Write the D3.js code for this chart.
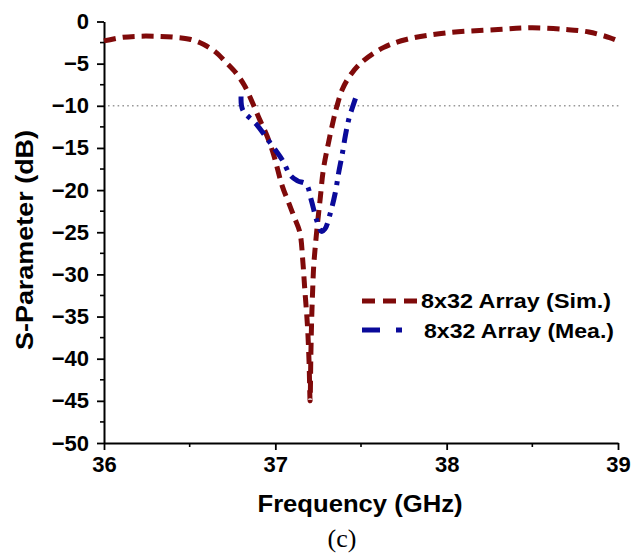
<!DOCTYPE html>
<html>
<head>
<meta charset="utf-8">
<script src="https://cdn.jsdelivr.net/npm/d3@7"></script>
<style>
  body { margin: 0; background: #fff; }
  svg { display: block; font-family: "Liberation Sans", Arial, sans-serif; }
</style>
</head>
<body>
<svg width="634" height="557"></svg>
<script>
// values (frequency in GHz, S-parameter in dB)
const simFreq = [36.00, 36.10, 36.20, 36.30, 36.40, 36.50, 36.58, 36.65, 36.71, 36.77, 36.82, 36.87,
  36.91, 36.95, 36.99, 37.04, 37.08, 37.11, 37.143, 37.161, 37.172, 37.184, 37.19, 37.197, 37.203,
  37.207, 37.212, 37.218, 37.224, 37.235, 37.248, 37.262, 37.28, 37.31, 37.34, 37.36, 37.39, 37.43,
  37.50, 37.63, 37.77, 38.00, 38.30, 38.50, 38.70, 38.83, 38.95, 39.00];
const simS = [-2.3, -1.9, -1.75, -1.75, -1.85, -2.1, -2.7, -3.6, -4.8, -6.1, -7.6, -9.8,
  -11.7, -13.5, -15.8, -19.5, -21.6, -23.2, -25.0, -28.6, -31.8, -35.0, -37.0, -40.5, -45.0,
  -40.0, -35.4, -31.8, -29.0, -26.3, -23.6, -21.0, -17.6, -14.4, -11.6, -10.0, -8.1, -6.6,
  -4.9, -3.1, -2.1, -1.35, -0.95, -0.75, -0.95, -1.25, -1.9, -2.3];

const meaFreq = [36.80, 36.81, 36.89, 36.97, 37.04, 37.09, 37.13, 37.18, 37.21, 37.24, 37.27, 37.29,
  37.32, 37.35, 37.37, 37.39, 37.41, 37.43, 37.45, 37.47];
const meaS = [-8.9, -10.5, -12.2, -14.4, -16.4, -18.3, -18.9, -19.3, -21.2, -23.5, -24.9, -24.6,
  -22.8, -20.3, -17.9, -15.8, -13.4, -11.5, -10.2, -9.0];

const xTicks = [36, 37, 38, 39];
const yTicks = [0, -5, -10, -15, -20, -25, -30, -35, -40, -45, -50];
const seriesNames = ["8x32 Array (Sim.)", "8x32 Array (Mea.)"];

const font = "'Liberation Sans', Arial, sans-serif";
const svg = d3.select("svg");
const x = d3.scaleLinear().domain([36, 39]).range([104, 618]);
const y = d3.scaleLinear().domain([-50, 0]).range([443, 21.5]);

const simData = simFreq.map((f, i) => ({ f, s: simS[i] }));
const meaData = meaFreq.map((f, i) => ({ f, s: meaS[i] }));

// -10 dB reference line
svg.append("line")
  .attr("x1", x(36) + 4).attr("x2", x(39) + 2)
  .attr("y1", y(-10)).attr("y2", y(-10))
  .attr("stroke", "#999").attr("stroke-width", 1.6)
  .attr("stroke-dasharray", "1.6,3.2");

// axes
const yAxis = svg.append("g")
  .attr("transform", `translate(${x(36)},0)`)
  .call(d3.axisLeft(y).tickValues(yTicks).tickSize(7).tickSizeOuter(0).tickPadding(8));
const xAxis = svg.append("g")
  .attr("transform", `translate(0,${y(-50)})`)
  .call(d3.axisBottom(x).tickValues(xTicks).tickFormat(d3.format("d")).tickSize(7).tickSizeOuter(0).tickPadding(6));

[yAxis, xAxis].forEach(g => {
  g.attr("font-family", font);
  g.select(".domain").attr("stroke", "#000").attr("stroke-width", 2);
  g.selectAll(".tick line").attr("stroke", "#000").attr("stroke-width", 1.8);
  g.selectAll(".tick text")
    .attr("font-size", 22).attr("font-weight", "bold").attr("fill", "#000");
});

// minor ticks
const yMinor = d3.range(-47.5, 0, 5);
svg.append("g").selectAll("line").data(yMinor).join("line")
  .attr("x1", x(36) - 4).attr("x2", x(36))
  .attr("y1", d => y(d)).attr("y2", d => y(d))
  .attr("stroke", "#000").attr("stroke-width", 1.6);
const xMinor = [36.5, 37.5, 38.5];
svg.append("g").selectAll("line").data(xMinor).join("line")
  .attr("x1", d => x(d)).attr("x2", d => x(d))
  .attr("y1", y(-50)).attr("y2", y(-50) + 4)
  .attr("stroke", "#000").attr("stroke-width", 1.6);

// curves
const line = d3.line().x(d => x(d.f)).y(d => y(d.s)).curve(d3.curveCatmullRom.alpha(0.5));
svg.append("path").datum(simData)
  .attr("fill", "none").attr("stroke", "#7f0a0a").attr("stroke-width", 5)
  .attr("stroke-dasharray", "12,7").attr("d", line);
svg.append("path").datum(meaData)
  .attr("fill", "none").attr("stroke", "#0a0a9a").attr("stroke-width", 5)
  .attr("stroke-dasharray", "14,7,4,7").attr("d", line);

// legend
const legend = svg.append("g");
legend.append("line")
  .attr("x1", 362).attr("x2", 419).attr("y1", 301).attr("y2", 301)
  .attr("stroke", "#7f0a0a").attr("stroke-width", 5).attr("stroke-dasharray", "13,8");
legend.append("line")
  .attr("x1", 362).attr("x2", 404).attr("y1", 330).attr("y2", 330)
  .attr("stroke", "#0a0a9a").attr("stroke-width", 5).attr("stroke-dasharray", "18,16,6,10");
legend.selectAll("text").data(seriesNames).join("text")
  .attr("x", (d, i) => i === 0 ? 421 : 424)
  .attr("y", (d, i) => 308 + i * 30)
  .attr("font-size", 21).attr("font-weight", "bold")
  .attr("textLength", 190).attr("lengthAdjust", "spacingAndGlyphs")
  .text(d => d);

// axis titles
svg.append("text")
  .attr("x", 360).attr("y", 512)
  .attr("text-anchor", "middle")
  .attr("font-size", 24).attr("font-weight", "bold")
  .attr("textLength", 205).attr("lengthAdjust", "spacingAndGlyphs")
  .text("Frequency (GHz)");

svg.append("text")
  .attr("transform", "translate(33,240) rotate(-90)")
  .attr("text-anchor", "middle")
  .attr("font-size", 23).attr("font-weight", "bold")
  .attr("textLength", 220).attr("lengthAdjust", "spacingAndGlyphs")
  .text("S-Parameter (dB)");

svg.append("text")
  .attr("x", 342).attr("y", 547)
  .attr("text-anchor", "middle")
  .attr("font-size", 26)
  .attr("font-family", "'Liberation Serif', 'Times New Roman', serif")
  .text("(c)");
</script>
</body>
</html>
